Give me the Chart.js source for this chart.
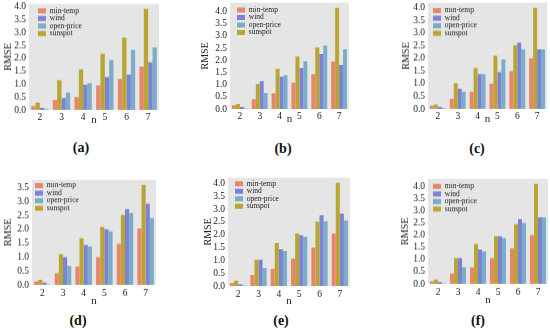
<!DOCTYPE html>
<html>
<head>
<meta charset="utf-8">
<script src="https://cdn.jsdelivr.net/npm/chart.js@4.4.1/dist/chart.umd.min.js"></script>
<style>
  html, body { margin: 0; padding: 0; background: #fff; }
  body { width: 550px; height: 334px; position: relative; overflow: hidden; font-family: "Liberation Serif", serif; }
  canvas { position: absolute; }
  .cap { position: absolute; font-weight: bold; font-size: 14px; transform: translate(-50%, -50%); color: #111; }
</style>
</head>
<body>
<script>
const nLabels = ['2', '3', '4', '5', '6', '7'];
const seriesNames = ['min-temp', 'wind', 'open-price', 'sunspot'];
const panelNames = ['(a)', '(b)', '(c)', '(d)', '(e)', '(f)'];

// one row per panel (a)..(f), one value per n = 2..7
const minTemp = [
    [0.15, 0.38, 0.50, 0.95, 1.20, 1.68],
    [0.15, 0.40, 0.65, 1.08, 1.42, 1.95],
    [0.13, 0.40, 0.68, 1.00, 1.50, 2.00],
    [0.12, 0.42, 0.66, 1.00, 1.48, 2.03],
    [0.12, 0.43, 0.67, 1.06, 1.50, 2.05],
    [0.10, 0.42, 0.67, 1.05, 1.47, 2.00]
];
const wind = [
    [0.08, 0.46, 0.98, 1.27, 1.37, 1.85],
    [0.08, 1.14, 1.32, 1.68, 2.25, 1.80],
    [0.08, 0.80, 1.38, 1.46, 2.62, 2.35],
    [0.08, 1.00, 1.43, 2.00, 2.73, 2.92],
    [0.07, 1.02, 1.43, 1.98, 2.76, 2.83],
    [0.07, 1.05, 1.40, 1.95, 2.65, 2.72]
];
const openPrice = [
    [0.03, 0.67, 1.04, 1.93, 2.33, 2.42],
    [0.02, 0.66, 1.38, 1.96, 2.60, 2.45],
    [0.03, 0.68, 1.38, 1.95, 2.35, 2.35],
    [0.02, 0.68, 1.38, 1.93, 2.58, 2.40],
    [0.02, 0.70, 1.36, 1.92, 2.52, 2.55],
    [0.02, 0.68, 1.33, 1.88, 2.50, 2.72]
];
const sunspot = [
    [0.28, 1.15, 1.57, 2.18, 2.80, 3.92],
    [0.20, 1.02, 1.65, 2.15, 2.52, 4.15],
    [0.18, 1.02, 1.62, 2.10, 2.52, 4.00],
    [0.18, 1.10, 1.68, 2.08, 2.52, 3.60],
    [0.20, 1.02, 1.68, 2.05, 2.50, 4.02],
    [0.18, 1.05, 1.63, 1.95, 2.45, 4.10]
];

const colors = ['#e8866a', '#7c82d6', '#7aaec8', '#b9a532'];
// bars sit in the order min-temp, sunspot, wind, open-price
const barOrder = [0, 2, 3, 1];
const FONT = 'Liberation Serif';

// plot boxes on the page
const panels = [
    {x0: 29,  x1: 159, top: 3,   zero: 109.5, yw: 27, xh: 17, tp: 1.5, dx: 9,   dy: 3.2, cap: [81, 148]},
    {x0: 230, x1: 349, top: 2,   zero: 109,   yw: 31, xh: 17, tp: 1.5, dx: 7,   dy: 3.5, cap: [283, 149]},
    {x0: 428, x1: 547, top: 2,   zero: 108.5, yw: 28, xh: 17, tp: 1.5, dx: 5,   dy: 4,   cap: [477, 149]},
    {x0: 32,  x1: 156, top: 179, zero: 284.5, yw: 30, xh: 23, tp: 3,   dx: 3,   dy: 2,   cap: [78, 321]},
    {x0: 228, x1: 350, top: 177, zero: 286,   yw: 26, xh: 22, tp: 3,   dx: 7,   dy: 2.3, cap: [281, 321]},
    {x0: 428, x1: 548, top: 178, zero: 283.5, yw: 29, xh: 23, tp: 3,   dx: 5,   dy: 3.7, cap: [478, 321]}
];

const plotBg = {
    id: 'plotBg',
    beforeDraw(chart) {
        const {ctx, chartArea: a} = chart;
        ctx.save();
        ctx.fillStyle = '#e5e5e5';
        ctx.fillRect(a.left, a.top, a.width, a.height);
        ctx.restore();
    }
};

// put the legend box inside the plot, near its top left corner
const legendSpot = {
    id: 'legendSpot',
    afterLayout(chart, args, opts) {
        const lg = chart.legend;
        const a = chart.chartArea;
        const w = lg.width, h = lg.height;
        lg.left = a.left + opts.dx;
        lg.top = a.top + opts.dy;
        lg.right = lg.left + w;
        lg.bottom = lg.top + h;
    }
};

const PAD_T = 8, PAD_R = 4;

panels.forEach((p, i) => {
    const cv = document.createElement('canvas');
    const w = p.x1 - p.x0 + p.yw + PAD_R;
    const h = p.zero - p.top + p.xh + PAD_T;
    cv.style.left = (p.x0 - p.yw) + 'px';
    cv.style.top = (p.top - PAD_T) + 'px';
    cv.style.width = w + 'px';
    cv.style.height = h + 'px';
    cv.width = w;
    cv.height = h;
    document.body.appendChild(cv);

    const series = [minTemp[i], wind[i], openPrice[i], sunspot[i]];
    const yMax = Math.max(...series.flat()) * 1.05;

    new Chart(cv.getContext('2d'), {
        type: 'bar',
        data: {
            labels: nLabels,
            datasets: series.map((d, k) => ({
                label: seriesNames[k],
                data: d,
                backgroundColor: colors[k],
                borderWidth: 0,
                order: barOrder[k],
                categoryPercentage: 0.8,
                barPercentage: 1.0
            }))
        },
        options: {
            responsive: false,
            animation: false,
            layout: { padding: { top: PAD_T, right: PAD_R, left: 0, bottom: 0 } },
            scales: {
                x: {
                    grid: { display: false, drawTicks: false },
                    border: { display: false },
                    ticks: { font: { family: FONT, size: 9.5 }, color: '#222', padding: p.tp },
                    title: { display: true, text: 'n', font: { family: FONT, size: 11 }, color: '#222', padding: 0 },
                    afterFit(s) { s.height = p.xh; }
                },
                y: {
                    min: 0,
                    max: yMax,
                    grid: { display: false, drawTicks: false },
                    border: { display: false },
                    ticks: {
                        stepSize: 0.5,
                        includeBounds: false,
                        autoSkip: false,
                        font: { family: FONT, size: 9.5 },
                        color: '#222',
                        padding: 3,
                        callback: v => v.toFixed(1)
                    },
                    title: { display: true, text: 'RMSE', font: { family: FONT, size: 10 }, color: '#222', padding: 0 },
                    afterFit(s) { s.width = p.yw; }
                }
            },
            plugins: {
                legend: {
                    position: 'chartArea',
                    align: 'start',
                    labels: {
                        boxWidth: 8,
                        boxHeight: 5,
                        padding: 0,
                        font: { family: FONT, size: 7.5 },
                        color: '#222',
                        sort: (a, b) => a.datasetIndex - b.datasetIndex
                    }
                },
                tooltip: { enabled: false },
                legendSpot: { dx: p.dx, dy: p.dy }
            }
        },
        plugins: [plotBg, legendSpot]
    });

    const cap = document.createElement('div');
    cap.className = 'cap';
    cap.textContent = panelNames[i];
    cap.style.left = p.cap[0] + 'px';
    cap.style.top = p.cap[1] + 'px';
    document.body.appendChild(cap);
});
</script>
</body>
</html>
